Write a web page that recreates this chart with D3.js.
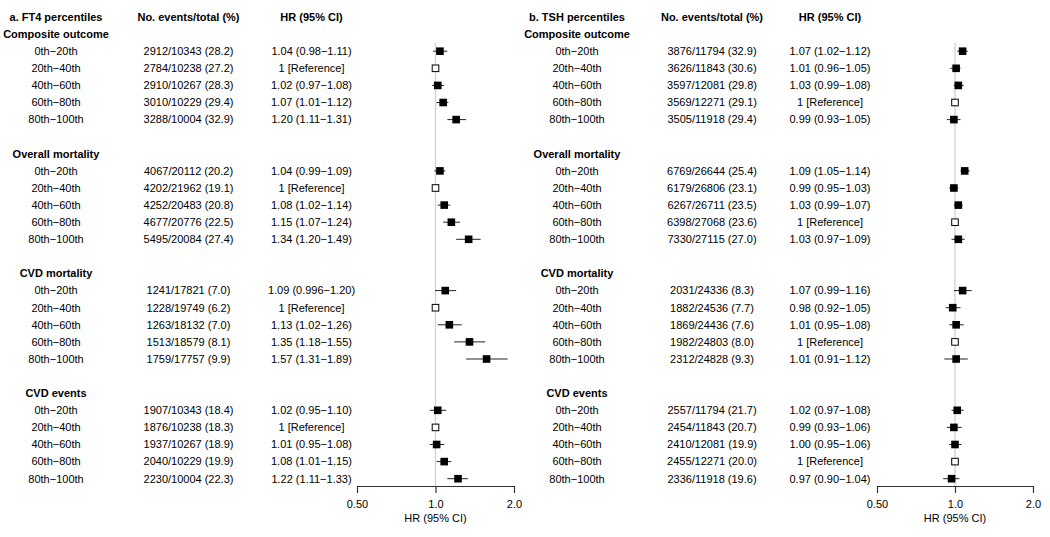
<!DOCTYPE html>
<html><head><meta charset="utf-8">
<script src="https://cdn.jsdelivr.net/npm/d3@7"></script>
<style>
html,body{margin:0;padding:0;background:#fff;}
svg{display:block;font-family:"Liberation Sans",Arial,sans-serif;}
</style></head>
<body><svg id="chart" width="1050" height="537"></svg>
<script>
// ---------------- DATA ----------------
const percentiles = ["0th\u221220th","20th\u221240th","40th\u221260th","60th\u221280th","80th\u2212100th"];
const outcomes = ["Composite outcome","Overall mortality","CVD mortality","CVD events"];
const panelTitles = ["a. FT4 percentiles","b. TSH percentiles"];
const colHeaders = ["No. events/total (%)","HR (95% CI)"];
const tickValues = [0.5, 1, 2];
const tickLabels = ["0.50","1.0","2.0"];
const axisTitle = "HR (95% CI)";

// FT4 (panel a) — per outcome, per percentile
const ft4Events = [[2912,2784,2910,3010,3288],[4067,4202,4252,4677,5495],[1241,1228,1263,1513,1759],[1907,1876,1937,2040,2230]];
const ft4Totals = [[10343,10238,10267,10229,10004],[20112,21962,20483,20776,20084],[17821,19749,18132,18579,17757],[10343,10238,10267,10229,10004]];
const ft4Pct    = [[28.2,27.2,28.3,29.4,32.9],[20.2,19.1,20.8,22.5,27.4],[7.0,6.2,7.0,8.1,9.9],[18.4,18.3,18.9,19.9,22.3]];
const ft4HR     = [[1.04,1,1.02,1.07,1.20],[1.04,1,1.08,1.15,1.34],[1.09,1,1.13,1.35,1.57],[1.02,1,1.01,1.08,1.22]];
const ft4Lo     = [[0.98,null,0.97,1.01,1.11],[0.99,null,1.02,1.07,1.20],[0.996,null,1.02,1.18,1.31],[0.95,null,0.95,1.01,1.11]];
const ft4Hi     = [[1.11,null,1.08,1.12,1.31],[1.09,null,1.14,1.24,1.49],[1.20,null,1.26,1.55,1.89],[1.10,null,1.08,1.15,1.33]];
const ft4Ref = 1; // index of reference category

// TSH (panel b)
const tshEvents = [[3876,3626,3597,3569,3505],[6769,6179,6267,6398,7330],[2031,1882,1869,1982,2312],[2557,2454,2410,2455,2336]];
const tshTotals = [[11794,11843,12081,12271,11918],[26644,26806,26711,27068,27115],[24336,24536,24436,24803,24828],[11794,11843,12081,12271,11918]];
const tshPct    = [[32.9,30.6,29.8,29.1,29.4],[25.4,23.1,23.5,23.6,27.0],[8.3,7.7,7.6,8.0,9.3],[21.7,20.7,19.9,20.0,19.6]];
const tshHR     = [[1.07,1.01,1.03,1,0.99],[1.09,0.99,1.03,1,1.03],[1.07,0.98,1.01,1,1.01],[1.02,0.99,1.00,1,0.97]];
const tshLo     = [[1.02,0.96,0.99,null,0.93],[1.05,0.95,0.99,null,0.97],[0.99,0.92,0.95,null,0.91],[0.97,0.93,0.95,null,0.90]];
const tshHi     = [[1.12,1.05,1.08,null,1.05],[1.14,1.03,1.07,null,1.09],[1.16,1.05,1.08,null,1.12],[1.08,1.06,1.06,null,1.04]];
const tshRef = 3;

// ---------------- DRAW ----------------
const svg = d3.select("#chart");
svg.append("rect").attr("width",1050).attr("height",537).attr("fill","#fff");

const rowY0 = 17, rowH = 17.1;
const rowY = i => rowY0 + i*rowH;
const fmtN = v => { const s = String(v); const d = s.includes(".") ? s.split(".")[1].length : 0; return v.toFixed(Math.max(2,d)); };

const panels = [
  {title:panelTitles[0], ev:ft4Events, tot:ft4Totals, pct:ft4Pct, hr:ft4HR, lo:ft4Lo, hi:ft4Hi, ref:ft4Ref,
   c1:56, c2:188.5, c3:311.5, x0:357, x1:514},
  {title:panelTitles[1], ev:tshEvents, tot:tshTotals, pct:tshPct, hr:tshHR, lo:tshLo, hi:tshHi, ref:tshRef,
   c1:577, c2:712, c3:830, x0:877, x1:1033}
];

const axisY = 486;
const boxS = 7.6;

panels.forEach(p => {
  const g = svg.append("g");
  const x = d3.scaleLog().domain([0.5,2]).range([p.x0,p.x1]);

  // reference line
  g.append("line").attr("x1",x(1)).attr("x2",x(1)).attr("y1",rowY(1.5)).attr("y2",axisY)
    .attr("stroke","#d3d3d3").attr("stroke-width",1.4);

  const txt = (t,cx,y,bold) => g.append("text").attr("x",cx).attr("y",y).attr("dy","0.35em")
    .attr("text-anchor","middle").attr("font-size",11).attr("font-weight",bold?"bold":"normal")
    .attr("fill","#000").text(t);

  txt(p.title,p.c1,rowY(0),true);
  txt(colHeaders[0],p.c2,rowY(0),true);
  txt(colHeaders[1],p.c3,rowY(0),true);

  outcomes.forEach((o,oi) => {
    const base = 1 + oi*7;
    txt(o,p.c1,rowY(base),true);
    percentiles.forEach((pc,pi) => {
      const y = rowY(base+1+pi);
      txt(pc,p.c1,y,false);
      txt(`${p.ev[oi][pi]}/${p.tot[oi][pi]} (${p.pct[oi][pi].toFixed(1)})`,p.c2,y,false);
      const isRef = pi===p.ref;
      const hr = p.hr[oi][pi];
      txt(isRef ? "1 [Reference]" : `${fmtN(hr)} (${fmtN(p.lo[oi][pi])}\u2212${fmtN(p.hi[oi][pi])})`, p.c3, y, false);
      if(isRef){
        g.append("rect").attr("x",x(1)-3.3).attr("y",y-3.3).attr("width",6.6).attr("height",6.6)
          .attr("fill","#fff").attr("stroke","#000").attr("stroke-width",1);
      } else {
        g.append("line").attr("x1",x(p.lo[oi][pi])).attr("x2",x(p.hi[oi][pi])).attr("y1",y).attr("y2",y)
          .attr("stroke","#222").attr("stroke-width",1);
        g.append("rect").attr("x",x(hr)-boxS/2).attr("y",y-boxS/2).attr("width",boxS).attr("height",boxS)
          .attr("fill","#000");
      }
    });
  });

  const axis = d3.axisBottom(x).tickValues(tickValues).tickFormat((d,i)=>tickLabels[i])
    .tickSize(7).tickSizeOuter(0).tickPadding(7);
  const ag = g.append("g").attr("transform",`translate(0,${axisY})`).call(axis);
  ag.select(".domain").attr("stroke","#333").attr("stroke-width",1.2);
  ag.selectAll(".tick line").attr("stroke","#333").attr("stroke-width",1.2);
  ag.selectAll(".tick text").attr("font-size",11).attr("fill","#000").attr("font-family","Liberation Sans, Arial, sans-serif");
  g.append("text").attr("x",x(1)).attr("y",518).attr("dy","0.35em").attr("text-anchor","middle")
    .attr("font-size",11).attr("fill","#000").text(axisTitle);
});
</script></body></html>
